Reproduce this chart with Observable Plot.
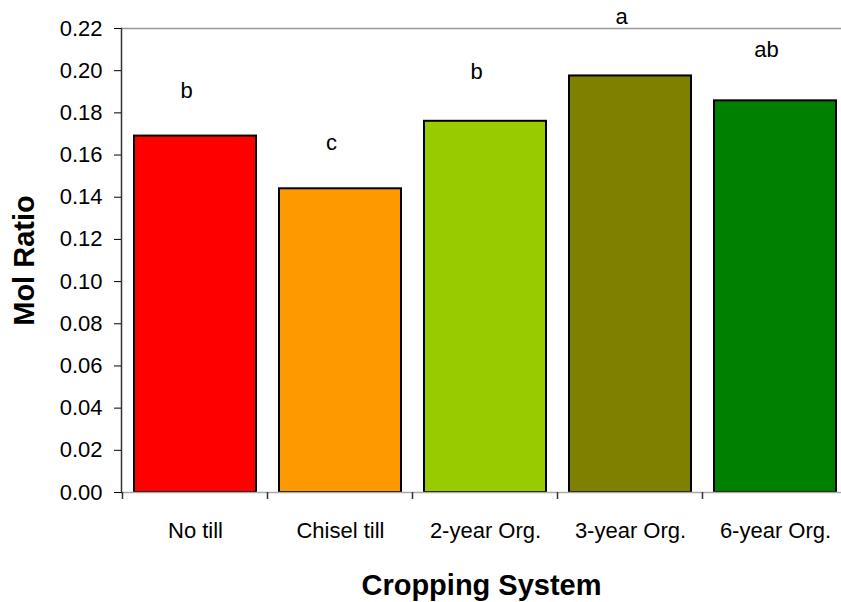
<!DOCTYPE html>
<html>
<head>
<meta charset="utf-8">
<script src="https://cdn.jsdelivr.net/npm/d3@7"></script>
<script src="https://cdn.jsdelivr.net/npm/@observablehq/plot@0.6"></script>
<style>
  html, body { margin: 0; padding: 0; overflow: hidden; background: #fff; }
  g[aria-label="y-axis label"] text, g[aria-label="x-axis label"] text { font-weight: bold; font-size: 29px; }
</style>
</head>
<body>
<div id="chart"></div>
<script>
const categories = ["No till", "Chisel till", "2-year Org.", "3-year Org.", "6-year Org."];
const molRatio = [0.169, 0.144, 0.176, 0.1975, 0.1857];
const barColors = ["#ff0000", "#ff9900", "#99cc00", "#808000", "#008000"];
const letters = ["b", "c", "b", "a", "ab"];
const letterHeights = [0.1905, 0.1655, 0.1995, 0.2255, 0.2097];
const yTicks = [0, 0.02, 0.04, 0.06, 0.08, 0.10, 0.12, 0.14, 0.16, 0.18, 0.20, 0.22];

const data = categories.map((c, i) => ({cat: c, value: molRatio[i], letter: letters[i], letterY: letterHeights[i]}));

const chart = Plot.plot({
  width: 841,
  height: 602,
  marginLeft: 121,
  marginTop: 28,
  marginBottom: 110,
  marginRight: 0,
  style: {fontFamily: "'Liberation Sans', Arial, sans-serif", fontSize: "22px", color: "#000", background: "#fff"},
  x: {domain: categories, range: [121, 849], paddingInner: 0.162, paddingOuter: 0.081},
  y: {domain: [0, 0.22]},
  color: {domain: categories, range: barColors},
  marks: [
    Plot.ruleY([0.22], {stroke: "#999", strokeWidth: 1.5}),
    Plot.barY(data, {x: "cat", y: "value", fill: "cat", stroke: "#000", strokeWidth: 2}),
    Plot.ruleY([0], {stroke: "#aaa", strokeWidth: 1.5}),
    Plot.frame({anchor: "left", stroke: "#333", strokeWidth: 1.5}),
    Plot.axisY({ticks: yTicks, tickFormat: d3.format(".2f"), tickSize: 7, tickPadding: 12, fontSize: 22,
      label: "Mol Ratio", labelAnchor: "center", labelOffset: 108, labelArrow: "none"}),
    Plot.axisX({tickSize: 0, tickPadding: 30, fontSize: 22, label: "Cropping System", labelAnchor: "center", labelOffset: 102, labelArrow: "none"}),
    Plot.text(data, {x: "cat", y: "letterY", text: "letter", dx: -9, fontSize: 22})
  ]
});

document.getElementById("chart").appendChild(chart);

// category boundary ticks drawn from the x band scale
const sx = chart.scale("x");
const sy = chart.scale("y");
const step = sx.apply(categories[1]) - sx.apply(categories[0]);
const half = (step - sx.bandwidth) / 2;
const bounds = categories.map(c => sx.apply(c) - half);
bounds.push(bounds[bounds.length - 1] + step);
const y0 = sy.apply(0);
d3.select(chart).append("g").attr("aria-label", "category ticks")
  .selectAll("line").data(bounds).join("line")
  .attr("x1", d => d).attr("x2", d => d)
  .attr("y1", y0).attr("y2", y0 + 7)
  .attr("stroke", "#333").attr("stroke-width", 1.5);
</script>
</body>
</html>
